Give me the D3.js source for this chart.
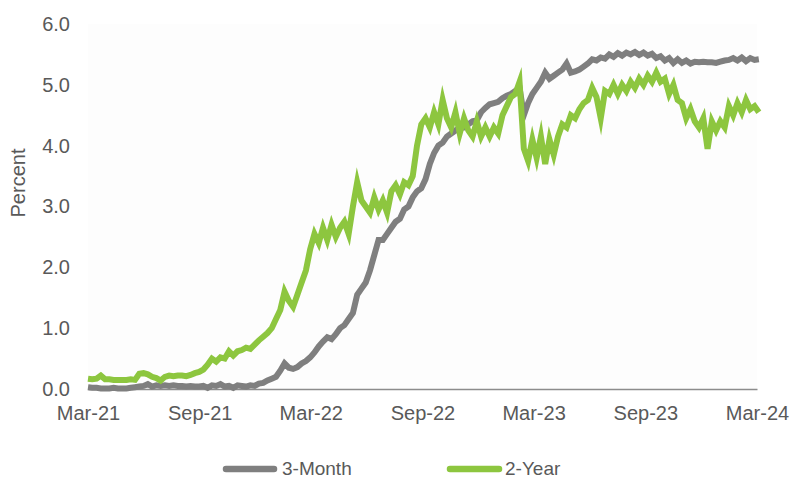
<!DOCTYPE html>
<html>
<head>
<meta charset="utf-8">
<script src="https://cdn.jsdelivr.net/npm/d3@7"></script>
<style>
  html, body { margin: 0; padding: 0; background: #ffffff; }
  svg { display: block; }
  text { font-family: "Liberation Sans", Arial, sans-serif; fill: #595959; }
</style>
</head>
<body>
<svg id="chart" width="793" height="479"></svg>
<script>
// Weekly observations (Wednesdays) starting 31 Mar 2021, yields in percent
const startDate = "2021-03-31";
const threeMonth = [
  0.03,0.02,0.02,0.01,0.01,0.01,0.02,0.01,0.01,0.01,0.02,0.03,0.04,
  0.05,0.08,0.04,0.06,0.05,0.06,0.05,0.06,0.05,0.05,0.04,0.05,0.04,0.04,
  0.05,0.02,0.06,0.05,0.08,0.04,0.05,0.02,0.06,0.05,0.04,0.06,0.05,
  0.09,0.10,0.14,0.17,0.20,0.30,0.42,0.35,0.33,0.36,0.42,0.46,
  0.52,0.60,0.70,0.78,0.85,0.82,0.90,1.00,1.05,1.15,1.25,1.55,1.65,
  1.75,1.95,2.20,2.45,2.45,2.55,2.65,2.75,2.80,2.95,3.00,3.15,3.25,
  3.30,3.45,3.70,3.88,4.00,4.05,4.15,4.20,4.25,4.30,4.30,4.35,4.40,
  4.42,4.55,4.62,4.68,4.70,4.72,4.78,4.82,4.85,4.90,4.95,4.50,4.70,
  4.85,4.95,5.05,5.20,5.10,5.15,5.20,5.25,5.35,5.20,5.22,5.25,5.30,
  5.35,5.42,5.40,5.45,5.43,5.50,5.46,5.52,5.48,5.53,5.50,5.54,5.49,
  5.53,5.48,5.51,5.44,5.47,5.40,5.44,5.36,5.42,5.36,5.40,5.35,5.38,
  5.37,5.38,5.37,5.37,5.36,5.38,5.40,5.41,5.44,5.40,5.45,5.39,5.44,
  5.41,5.42
];
const twoYear = [
  0.17,0.16,0.17,0.22,0.16,0.16,0.15,0.15,0.15,0.15,0.16,0.15,0.25,
  0.26,0.24,0.20,0.18,0.14,0.20,0.22,0.21,0.22,0.22,0.21,0.23,0.26,0.28,
  0.32,0.40,0.50,0.45,0.52,0.50,0.62,0.55,0.62,0.64,0.68,0.66,0.73,
  0.80,0.86,0.92,1.00,1.15,1.30,1.60,1.45,1.35,1.55,1.75,1.95,
  2.30,2.55,2.40,2.65,2.45,2.70,2.50,2.65,2.75,2.55,3.00,3.40,3.10,
  3.00,2.90,3.15,2.95,3.10,2.90,3.25,3.35,3.20,3.40,3.35,3.50,4.00,
  4.35,4.45,4.30,4.55,4.35,4.75,4.45,4.30,4.55,4.20,4.45,4.25,4.15,
  4.40,4.15,4.30,4.15,4.30,4.20,4.50,4.65,4.80,4.85,5.05,3.95,3.75,
  4.10,3.80,4.15,3.70,4.10,3.85,4.15,4.35,4.30,4.50,4.45,4.60,4.70,
  4.75,4.95,4.80,4.45,4.90,4.85,5.00,4.85,5.00,4.90,5.05,4.95,5.10,
  5.00,5.15,5.05,5.20,5.05,5.10,4.85,5.00,4.75,4.70,4.45,4.60,4.40,
  4.30,4.45,3.95,4.40,4.25,4.40,4.30,4.65,4.50,4.70,4.55,4.75,4.60,
  4.65,4.55
];
const seriesNames = ["3-Month", "2-Year"];
const seriesColors = ["#7f7f7f", "#8dc63f"];
const xTickDates = ["2021-03-31","2021-09-30","2022-03-31","2022-09-30","2023-03-31","2023-09-30","2024-03-31"];
const xTickLabels = ["Mar-21","Sep-21","Mar-22","Sep-22","Mar-23","Sep-23","Mar-24"];
const yTicks = [0, 1, 2, 3, 4, 5, 6];

const parse = d3.timeParse("%Y-%m-%d");
const t0 = parse(startDate);
const dates = threeMonth.map((_, i) => d3.timeDay.offset(t0, 7 * i));

const svg = d3.select("#chart");
const plot = { left: 88, right: 757, top: 24, bottom: 389 };
const fontSize = "20px";

const x = d3.scaleTime()
  .domain([parse(xTickDates[0]), parse(xTickDates[xTickDates.length - 1])])
  .range([plot.left, plot.right]);
const y = d3.scaleLinear().domain([0, 6]).range([plot.bottom, plot.top]);

// plot area panel
svg.append("rect")
  .attr("x", plot.left).attr("y", plot.top)
  .attr("width", plot.right - plot.left).attr("height", plot.bottom - plot.top)
  .attr("fill", "#fdfdfd");

// y axis: labels only
const yAxis = d3.axisLeft(y).tickValues(yTicks).tickFormat(d3.format(".1f")).tickSize(0).tickPadding(0);
const gy = svg.append("g").attr("transform", "translate(70,0)").call(yAxis);
gy.select(".domain").remove();
gy.selectAll("text").style("font-size", fontSize).attr("fill", "#595959")
  .style("font-family", "'Liberation Sans', Arial, sans-serif");

// x axis: baseline plus month labels
const xAxis = d3.axisBottom(x)
  .tickValues(xTickDates.map(parse))
  .tickFormat((d, i) => xTickLabels[i])
  .tickSize(0).tickPadding(17);
const gx = svg.append("g").attr("transform", `translate(0,${plot.bottom})`).call(xAxis);
gx.select(".domain").attr("stroke", "#8c8c8c").attr("stroke-width", 1.5);
gx.selectAll("text").style("font-size", fontSize).attr("fill", "#595959")
  .style("font-family", "'Liberation Sans', Arial, sans-serif");

// axis title
svg.append("text")
  .attr("transform", "translate(25,183) rotate(-90)")
  .attr("text-anchor", "middle")
  .style("font-size", fontSize)
  .text("Percent");

// series lines
const line = d3.line().x((d, i) => x(dates[i])).y(d => y(d));
[threeMonth, twoYear].forEach((vals, k) => {
  svg.append("path")
    .datum(vals)
    .attr("d", line)
    .attr("fill", "none")
    .attr("stroke", seriesColors[k])
    .attr("stroke-width", 6)
    .attr("stroke-linejoin", "miter")
    .attr("stroke-miterlimit", 6);
});

// legend
const legendItems = [{ x1: 226, x2: 274, tx: 282 }, { x1: 450, x2: 499, tx: 505 }];
legendItems.forEach((it, k) => {
  svg.append("line")
    .attr("x1", it.x1).attr("x2", it.x2)
    .attr("y1", 469).attr("y2", 469)
    .attr("stroke", seriesColors[k])
    .attr("stroke-width", 6.5)
    .attr("stroke-linecap", "round");
  svg.append("text")
    .attr("x", it.tx).attr("y", 475)
    .style("font-size", "19px")
    .text(seriesNames[k]);
});
</script>
</body>
</html>
